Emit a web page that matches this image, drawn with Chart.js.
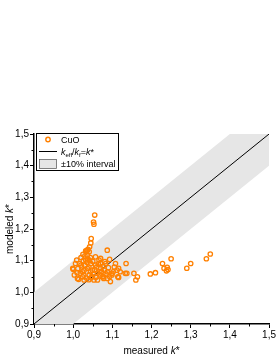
<!DOCTYPE html>
<html>
<head>
<meta charset="utf-8">
<script src="https://cdn.jsdelivr.net/npm/chart.js@4"></script>
<style>
  html, body { margin: 0; padding: 0; background: #fff; }
  #wrap { width: 277px; height: 358px; }
</style>
</head>
<body>
<div id="wrap"><canvas id="chart"></canvas></div>
<script>
// measured k* vs modeled k* (CuO)
const measured = [
  1.055, 1.052, 1.053, 1.046, 1.045, 1.042, 1.036, 1.032, 1.041, 1.038, 1.034, 1.087, 1.036,
  1.000, 1.009, 1.016, 1.014, 1.024, 1.057, 1.070, 1.081, 1.093, 1.078, 1.062, 1.102, 1.114, 1.135, 1.137,
  0.999, 1.006, 1.003, 1.011, 1.020, 1.024, 1.028, 1.032, 1.036, 1.041, 1.045, 1.049, 1.053, 1.057, 1.062,
  1.066, 1.070, 1.074, 1.083, 1.087, 1.095, 1.099, 1.108, 1.070, 1.116, 1.120, 1.099, 1.133, 1.116, 1.066,
  1.078, 1.087, 1.020, 1.026, 1.030, 1.035, 1.040, 1.044, 1.048, 1.028, 1.018, 1.012, 1.022, 1.038, 1.044,
  1.050, 1.055, 1.060, 1.064, 1.068, 1.072, 1.076, 1.080, 1.084, 1.090, 1.093, 1.010, 1.027, 1.034, 1.040,
  1.046, 1.052, 1.058, 1.030, 1.042, 1.105, 1.112, 1.025,
  1.155, 1.164, 1.160, 1.197, 1.210, 1.228, 1.232, 1.240, 1.238, 1.242, 1.250, 1.290, 1.300, 1.340, 1.350
];
const modeled = [
  1.244, 1.222, 1.215, 1.170, 1.156, 1.144, 1.133, 1.131, 1.128, 1.136, 1.130, 1.133, 1.118,
  1.073, 1.102, 1.091, 1.041, 1.049, 1.112, 1.091, 1.097, 1.104, 1.044, 1.039, 1.065, 1.049, 1.091, 1.060,
  1.076, 1.091, 1.055, 1.044, 1.086, 1.065, 1.039, 1.102, 1.076, 1.055, 1.091, 1.070, 1.039, 1.086, 1.060,
  1.102, 1.076, 1.049, 1.091, 1.065, 1.034, 1.055, 1.091, 1.107, 1.076, 1.065, 1.060, 1.060, 1.047, 1.065,
  1.049, 1.044, 1.110, 1.100, 1.085, 1.095, 1.080, 1.065, 1.050, 1.070, 1.060, 1.075, 1.080, 1.105, 1.110,
  1.098, 1.072, 1.080, 1.090, 1.055, 1.066, 1.082, 1.070, 1.058, 1.078, 1.050, 1.062, 1.055, 1.045, 1.040,
  1.046, 1.058, 1.048, 1.115, 1.100, 1.080, 1.070, 1.120,
  1.060, 1.049, 1.039, 1.058, 1.062, 1.091, 1.076, 1.079, 1.068, 1.072, 1.106, 1.076, 1.091, 1.106, 1.121
];

// ideal line keff/kf = k*
const lineX = [0.9, 1.5];
const lineY = [0.9, 1.5];
// +-10% interval
const bandX = [0.9, 1.5];
const bandUpper = [1.0, 1.6];
const bandLower = [0.8, 1.4];

const tickValues = [0.9, 1.0, 1.1, 1.2, 1.3, 1.4, 1.5];

const orange = '#ff8000';
const bandGray = '#e6e6e6';
const fontFamily = '"Liberation Sans", Arial, sans-serif';

const toXY = (xs, ys) => xs.map((x, i) => ({ x: x, y: ys[i] }));

// minor ticks, axis titles and the legend
const extras = {
  id: 'extras',
  afterDraw(chart) {
    const ctx = chart.ctx;
    const xs = chart.scales.x, ys = chart.scales.y;
    const a = chart.chartArea;
    ctx.save();
    ctx.strokeStyle = '#000';
    ctx.lineWidth = 1;
    for (let i = 0; i < tickValues.length - 1; i++) {
      const mid = (tickValues[i] + tickValues[i + 1]) / 2;
      const px = Math.round(xs.getPixelForValue(mid)) + 0.5;
      ctx.beginPath(); ctx.moveTo(px, a.bottom); ctx.lineTo(px, a.bottom + 2.5); ctx.stroke();
      const py = Math.round(ys.getPixelForValue(mid)) + 0.5;
      ctx.beginPath(); ctx.moveTo(a.left, py); ctx.lineTo(a.left - 2.5, py); ctx.stroke();
    }

    // mixed-font text helper
    const parts = (list) => {
      let w = 0;
      list.forEach(p => { ctx.font = p.f; p.w = ctx.measureText(p.t).width; w += p.w; });
      return w;
    };
    const drawParts = (list, x, y) => {
      list.forEach(p => {
        ctx.font = p.f;
        ctx.fillText(p.t, x, y + (p.dy || 0));
        x += p.w;
      });
    };
    const reg = '10px ' + fontFamily;
    const ita = 'italic 10px ' + fontFamily;
    ctx.fillStyle = '#000';
    ctx.textBaseline = 'alphabetic';
    ctx.textAlign = 'left';

    // x title
    const xt = [{ t: 'measured ', f: reg }, { t: 'k', f: ita }, { t: '*', f: reg }];
    const xw = parts(xt);
    drawParts(xt, (a.left + a.right) / 2 - xw / 2, 354);

    // y title
    const yt = [{ t: 'modeled ', f: reg }, { t: 'k', f: ita }, { t: '*', f: reg }];
    const yw = parts(yt);
    ctx.save();
    ctx.translate(13, (a.top + a.bottom) / 2);
    ctx.rotate(-Math.PI / 2);
    drawParts(yt, -yw / 2, 0);
    ctx.restore();

    // legend
    const lx = 36, ly = 133, lw = 82, lh = 37;
    ctx.fillStyle = '#fff';
    ctx.fillRect(lx, ly, lw, lh);
    ctx.strokeStyle = '#000';
    ctx.lineWidth = 1;
    ctx.strokeRect(lx + 0.5, ly + 0.5, lw, lh);

    ctx.strokeStyle = orange;
    ctx.lineWidth = 1.4;
    ctx.beginPath(); ctx.arc(48, 139.5, 2.2, 0, Math.PI * 2); ctx.stroke();

    ctx.strokeStyle = '#000';
    ctx.lineWidth = 1;
    ctx.beginPath(); ctx.moveTo(39, 151.5); ctx.lineTo(57, 151.5); ctx.stroke();

    ctx.fillStyle = bandGray;
    ctx.fillRect(39, 159, 18, 10);
    ctx.strokeStyle = '#555';
    ctx.lineWidth = 0.7;
    ctx.strokeRect(39.5, 159.5, 17, 9);

    const lreg = '9px ' + fontFamily;
    const lita = 'italic 9px ' + fontFamily;
    const sub = '6px ' + fontFamily;
    ctx.fillStyle = '#000';
    const cuo = [{ t: 'CuO', f: lreg }];
    parts(cuo);
    drawParts(cuo, 61, 143);
    const eq = [
      { t: 'k', f: lita }, { t: 'eff', f: sub, dy: 2 }, { t: '/', f: lreg },
      { t: 'k', f: lita }, { t: 'f', f: sub, dy: 2 }, { t: '=', f: lreg },
      { t: 'k', f: lita }, { t: '*', f: lreg }
    ];
    parts(eq);
    drawParts(eq, 61, 154.5);
    const iv = [{ t: '\u00b110% interval', f: lreg }];
    parts(iv);
    drawParts(iv, 61, 167);
    ctx.restore();
  }
};

const tickFont = { family: fontFamily, size: 10 };
const fmt = v => Number(v).toFixed(1).replace('.', ',');

new Chart(document.getElementById('chart'), {
  type: 'scatter',
  data: {
    datasets: [
      {
        type: 'line',
        order: 3,
        data: toXY(bandX, bandUpper),
        borderWidth: 0,
        borderColor: 'rgba(0,0,0,0)',
        pointRadius: 0,
        backgroundColor: bandGray,
        fill: '+1'
      },
      {
        type: 'line',
        order: 4,
        data: toXY(bandX, bandLower),
        borderWidth: 0,
        borderColor: 'rgba(0,0,0,0)',
        pointRadius: 0,
        fill: false
      },
      {
        type: 'line',
        order: 2,
        data: toXY(lineX, lineY),
        borderColor: '#000',
        borderWidth: 1,
        pointRadius: 0,
        fill: false
      },
      {
        order: 1,
        data: toXY(measured, modeled),
        pointStyle: 'circle',
        pointRadius: 2.2,
        borderWidth: 1.3,
        borderColor: orange,
        backgroundColor: 'rgba(0,0,0,0)'
      }
    ]
  },
  options: {
    responsive: true,
    maintainAspectRatio: false,
    animation: false,
    layout: { padding: { top: 134, right: 4, left: 0, bottom: 0 } },
    plugins: { legend: { display: false }, tooltip: { enabled: false } },
    scales: {
      x: {
        type: 'linear',
        min: 0.9,
        max: 1.5,
        afterFit: s => { s.height = 34; },
        afterBuildTicks: s => { s.ticks = tickValues.map(v => ({ value: v })); },
        border: { color: '#000', width: 1.5 },
        grid: { drawOnChartArea: false, color: '#000', tickLength: 4, lineWidth: 1 },
        ticks: { color: '#000', font: tickFont, padding: 1, maxRotation: 0, callback: fmt }
      },
      y: {
        type: 'linear',
        min: 0.9,
        max: 1.5,
        afterFit: s => { s.width = 34; },
        afterBuildTicks: s => { s.ticks = tickValues.map(v => ({ value: v })); },
        border: { color: '#000', width: 1.5 },
        grid: { drawOnChartArea: false, color: '#000', tickLength: 4, lineWidth: 1 },
        ticks: { color: '#000', font: tickFont, padding: 1, callback: fmt }
      }
    }
  },
  plugins: [extras]
});
</script>
</body>
</html>
